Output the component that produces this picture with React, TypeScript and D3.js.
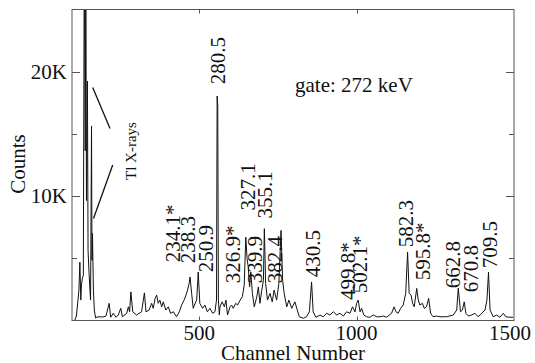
import React, { useRef, useEffect } from "react";
import { select, scaleLinear, line } from "d3";

// spectrum: channel -> counts
const channels = [
  105, 110, 115, 118, 121, 124, 126, 129, 132, 135,
  138, 140, 142, 145, 147, 150, 153, 155, 158, 159.5,
  161, 164, 167, 171,
  175, 185, 194, 204, 214, 219, 227, 236, 243, 251,
  256, 270, 275, 279, 283, 289, 301, 317, 326, 331,
  341, 349, 354, 360, 365, 370, 375, 381, 386, 394,
  402, 409, 418, 428, 437, 444, 452, 458, 463, 468,
  471, 476, 481, 487, 492, 497, 502, 511, 518, 526,
  534, 543, 550, 555, 557, 559, 561, 564, 566, 573,
  580, 585, 590, 598, 603, 608, 616, 622, 630, 637,
  643, 648, 652, 656, 660, 664, 669, 675, 683, 688,
  693, 698, 704, 707, 711, 717, 725, 732, 738, 746,
  753, 760, 765, 770, 778, 785, 794, 804, 810, 818,
  831, 841, 850, 857, 862, 871, 884, 894, 905, 915,
  926, 937, 947, 958, 968, 979, 987, 995, 1000, 1005,
  1011, 1016, 1023, 1032, 1042, 1053, 1064, 1074, 1085, 1095,
  1111, 1119, 1125, 1132, 1140, 1148, 1156, 1162, 1167, 1173,
  1178, 1183, 1191, 1196, 1201, 1209, 1215, 1222, 1229, 1235,
  1243, 1254, 1265, 1286, 1307, 1318, 1323, 1330, 1336, 1342,
  1347, 1355, 1365, 1376, 1386, 1397, 1408, 1414, 1419, 1424,
  1434, 1445, 1455, 1466, 1474, 1487, 1497,
];

const counts = [
  40, 360, 1640, 2440, 4680, 1640, 2840, 3400, 3640, 30000,
  13640, 28000, 9640, 19240, 5640, 3880, 2440, 1640, 15640, 4840,
  7000, 2440, 840, 200,
  280, 300, 280, 360, 1380, 260, 580, 260, 440, 980,
  300, 580, 1100, 700, 2300, 700, 440, 700, 2220, 700,
  840, 1380, 980, 1780, 2040, 1380, 1640, 1100, 1500, 840,
  1100, 580, 700, 300, 700, 1240, 1640, 2040, 2440, 2980,
  3500, 2180, 980, 1380, 1640, 3900, 1380, 980, 1240, 700,
  980, 580, 700, 1640, 18040, 17240, 1640, 440, 1100, 1500,
  1100, 1640, 440, 1100, 1240, 980, 1380, 1240, 1640, 1900,
  2840, 6700, 4980, 4300, 2700, 3900, 2180, 1100, 1900, 2700,
  1380, 2300, 3240, 7380, 2980, 1640, 2180, 1500, 2440, 1640,
  2980, 7240, 3240, 2180, 1100, 1640, 980, 1500, 980, 300,
  180, 300, 700, 3100, 700, 260, 440, 300, 580, 440,
  700, 440, 580, 360, 700, 580, 1100, 700, 1380, 1640,
  700, 980, 440, 300, 260, 440, 300, 300, 360, 260,
  580, 1100, 700, 580, 980, 1240, 2180, 5500, 2180, 2040,
  1380, 1100, 2580, 1640, 1240, 1380, 980, 1100, 1780, 580,
  300, 360, 300, 300, 440, 840, 2600, 700, 840, 1500,
  580, 360, 440, 580, 300, 580, 840, 1640, 3880, 840,
  300, 440, 260, 580, 300, 260, 260,
];

// peak labels (keV), placed at channel / counts of the text foot
const peakLabels = ["234.1*", "238.3", "250.9", "280.5", "326.9*", "327.1", "339.9", "355.1", "382.4",
  "430.5", "499.8*", "502.1*", "582.3", "595.8*", "662.8", "670.8", "709.5"];
const labelChannels = [439, 487, 544, 582, 630, 677, 699, 731, 763, 884, 995, 1033, 1179, 1233, 1328, 1385, 1446];
const labelCounts = [4680, 4600, 3880, 19000, 3000, 8840, 3000, 8200, 3000, 3480, 1640, 2200, 5880, 3240, 2600, 2280, 4200];

const xTicks = [500, 1000, 1500];
const yTicks = [10000, 20000];
const yMinorTicks = [5000, 15000];
const yTickLabels = ["10K", "20K"];

const W = 535;
const H = 363;
const FONT = "'Liberation Serif', 'Times New Roman', serif";

export default function App() {
  const svgRef = useRef<SVGSVGElement>(null);

  useEffect(() => {
    const svg = select(svgRef.current);
    svg.selectAll("*").remove();

    const left = 72, right = 514, top = 9.5, bottom = 320.5;

    const xScale = scaleLinear().domain([96, 1500]).range([left, right]);
    const yScale = scaleLinear().domain([0, 25000]).range([bottom, top]);

    svg.append("defs").append("clipPath").attr("id", "plotclip")
      .append("rect").attr("x", left).attr("y", top).attr("width", right - left).attr("height", bottom - top);

    const pts: [number, number][] = channels.map((c, i) => [c, counts[i]]);
    const spectrum = line<[number, number]>()
      .x(d => xScale(d[0]))
      .y(d => yScale(d[1]));

    svg.append("path")
      .datum(pts)
      .attr("d", spectrum)
      .attr("fill", "none")
      .attr("stroke", "#111")
      .attr("stroke-width", 1)
      .attr("clip-path", "url(#plotclip)");

    // frame
    svg.append("rect")
      .attr("x", left).attr("y", top)
      .attr("width", right - left).attr("height", bottom - top)
      .attr("fill", "none").attr("stroke", "#555").attr("stroke-width", 1);

    // y ticks both sides
    const tickG = svg.append("g").attr("stroke", "#555").attr("stroke-width", 1);
    yTicks.forEach(t => {
      const y = Math.round(yScale(t)) + 0.5;
      tickG.append("line").attr("x1", left).attr("x2", left + 8).attr("y1", y).attr("y2", y);
      tickG.append("line").attr("x1", right - 8).attr("x2", right).attr("y1", y).attr("y2", y);
    });
    yMinorTicks.forEach(t => {
      const y = Math.round(yScale(t)) + 0.5;
      tickG.append("line").attr("x1", left).attr("x2", left + 5).attr("y1", y).attr("y2", y);
      tickG.append("line").attr("x1", right - 5).attr("x2", right).attr("y1", y).attr("y2", y);
    });
    xTicks.slice(0, 2).forEach(t => {
      const x = Math.round(xScale(t)) + 0.5;
      tickG.append("line").attr("x1", x).attr("x2", x).attr("y1", top).attr("y2", top + 4);
      tickG.append("line").attr("x1", x).attr("x2", x).attr("y1", bottom).attr("y2", bottom - 4);
    });

    const txt = svg.append("g").attr("font-family", FONT).attr("fill", "#111");

    xTicks.forEach(t => {
      txt.append("text")
        .attr("x", Math.min(xScale(t), 510))
        .attr("y", 340)
        .attr("text-anchor", "middle")
        .attr("font-size", 21)
        .text(t);
    });
    yTicks.forEach((t, i) => {
      txt.append("text")
        .attr("x", 67)
        .attr("y", yScale(t) + 7)
        .attr("text-anchor", "end")
        .attr("font-size", 21)
        .text(yTickLabels[i]);
    });

    txt.append("text")
      .attr("x", 293).attr("y", 360)
      .attr("text-anchor", "middle")
      .attr("font-size", 21)
      .text("Channel Number");

    txt.append("text")
      .attr("transform", "translate(25,164) rotate(-90)")
      .attr("text-anchor", "middle")
      .attr("font-size", 21)
      .text("Counts");

    txt.append("text")
      .attr("x", 295).attr("y", 92)
      .attr("font-size", 21)
      .text("gate: 272 keV");

    // peak labels, vertical
    peakLabels.forEach((lab, i) => {
      const x = xScale(labelChannels[i]);
      const y = yScale(labelCounts[i]);
      txt.append("text")
        .attr("transform", `translate(${x},${y}) rotate(-90)`)
        .attr("font-size", 21)
        .text(lab);
    });

    // Tl X-rays annotation
    txt.append("text")
      .attr("transform", `translate(136,180) rotate(-90)`)
      .attr("font-size", 15)
      .text("Tl X-rays");

    const arrows = svg.append("g").attr("stroke", "#111").attr("stroke-width", 1.3);
    arrows.append("line").attr("x1", 92.7).attr("y1", 87.5).attr("x2", 110).attr("y2", 128.5);
    arrows.append("line").attr("x1", 112.7).attr("y1", 165).attr("x2", 93.5).attr("y2", 218.5);
  }, []);

  return (
    <div style={{ position: "absolute", left: 0, top: 0 }}>
      <svg ref={svgRef} width={W} height={H} style={{ display: "block", background: "#fff" }} />
    </div>
  );
}
